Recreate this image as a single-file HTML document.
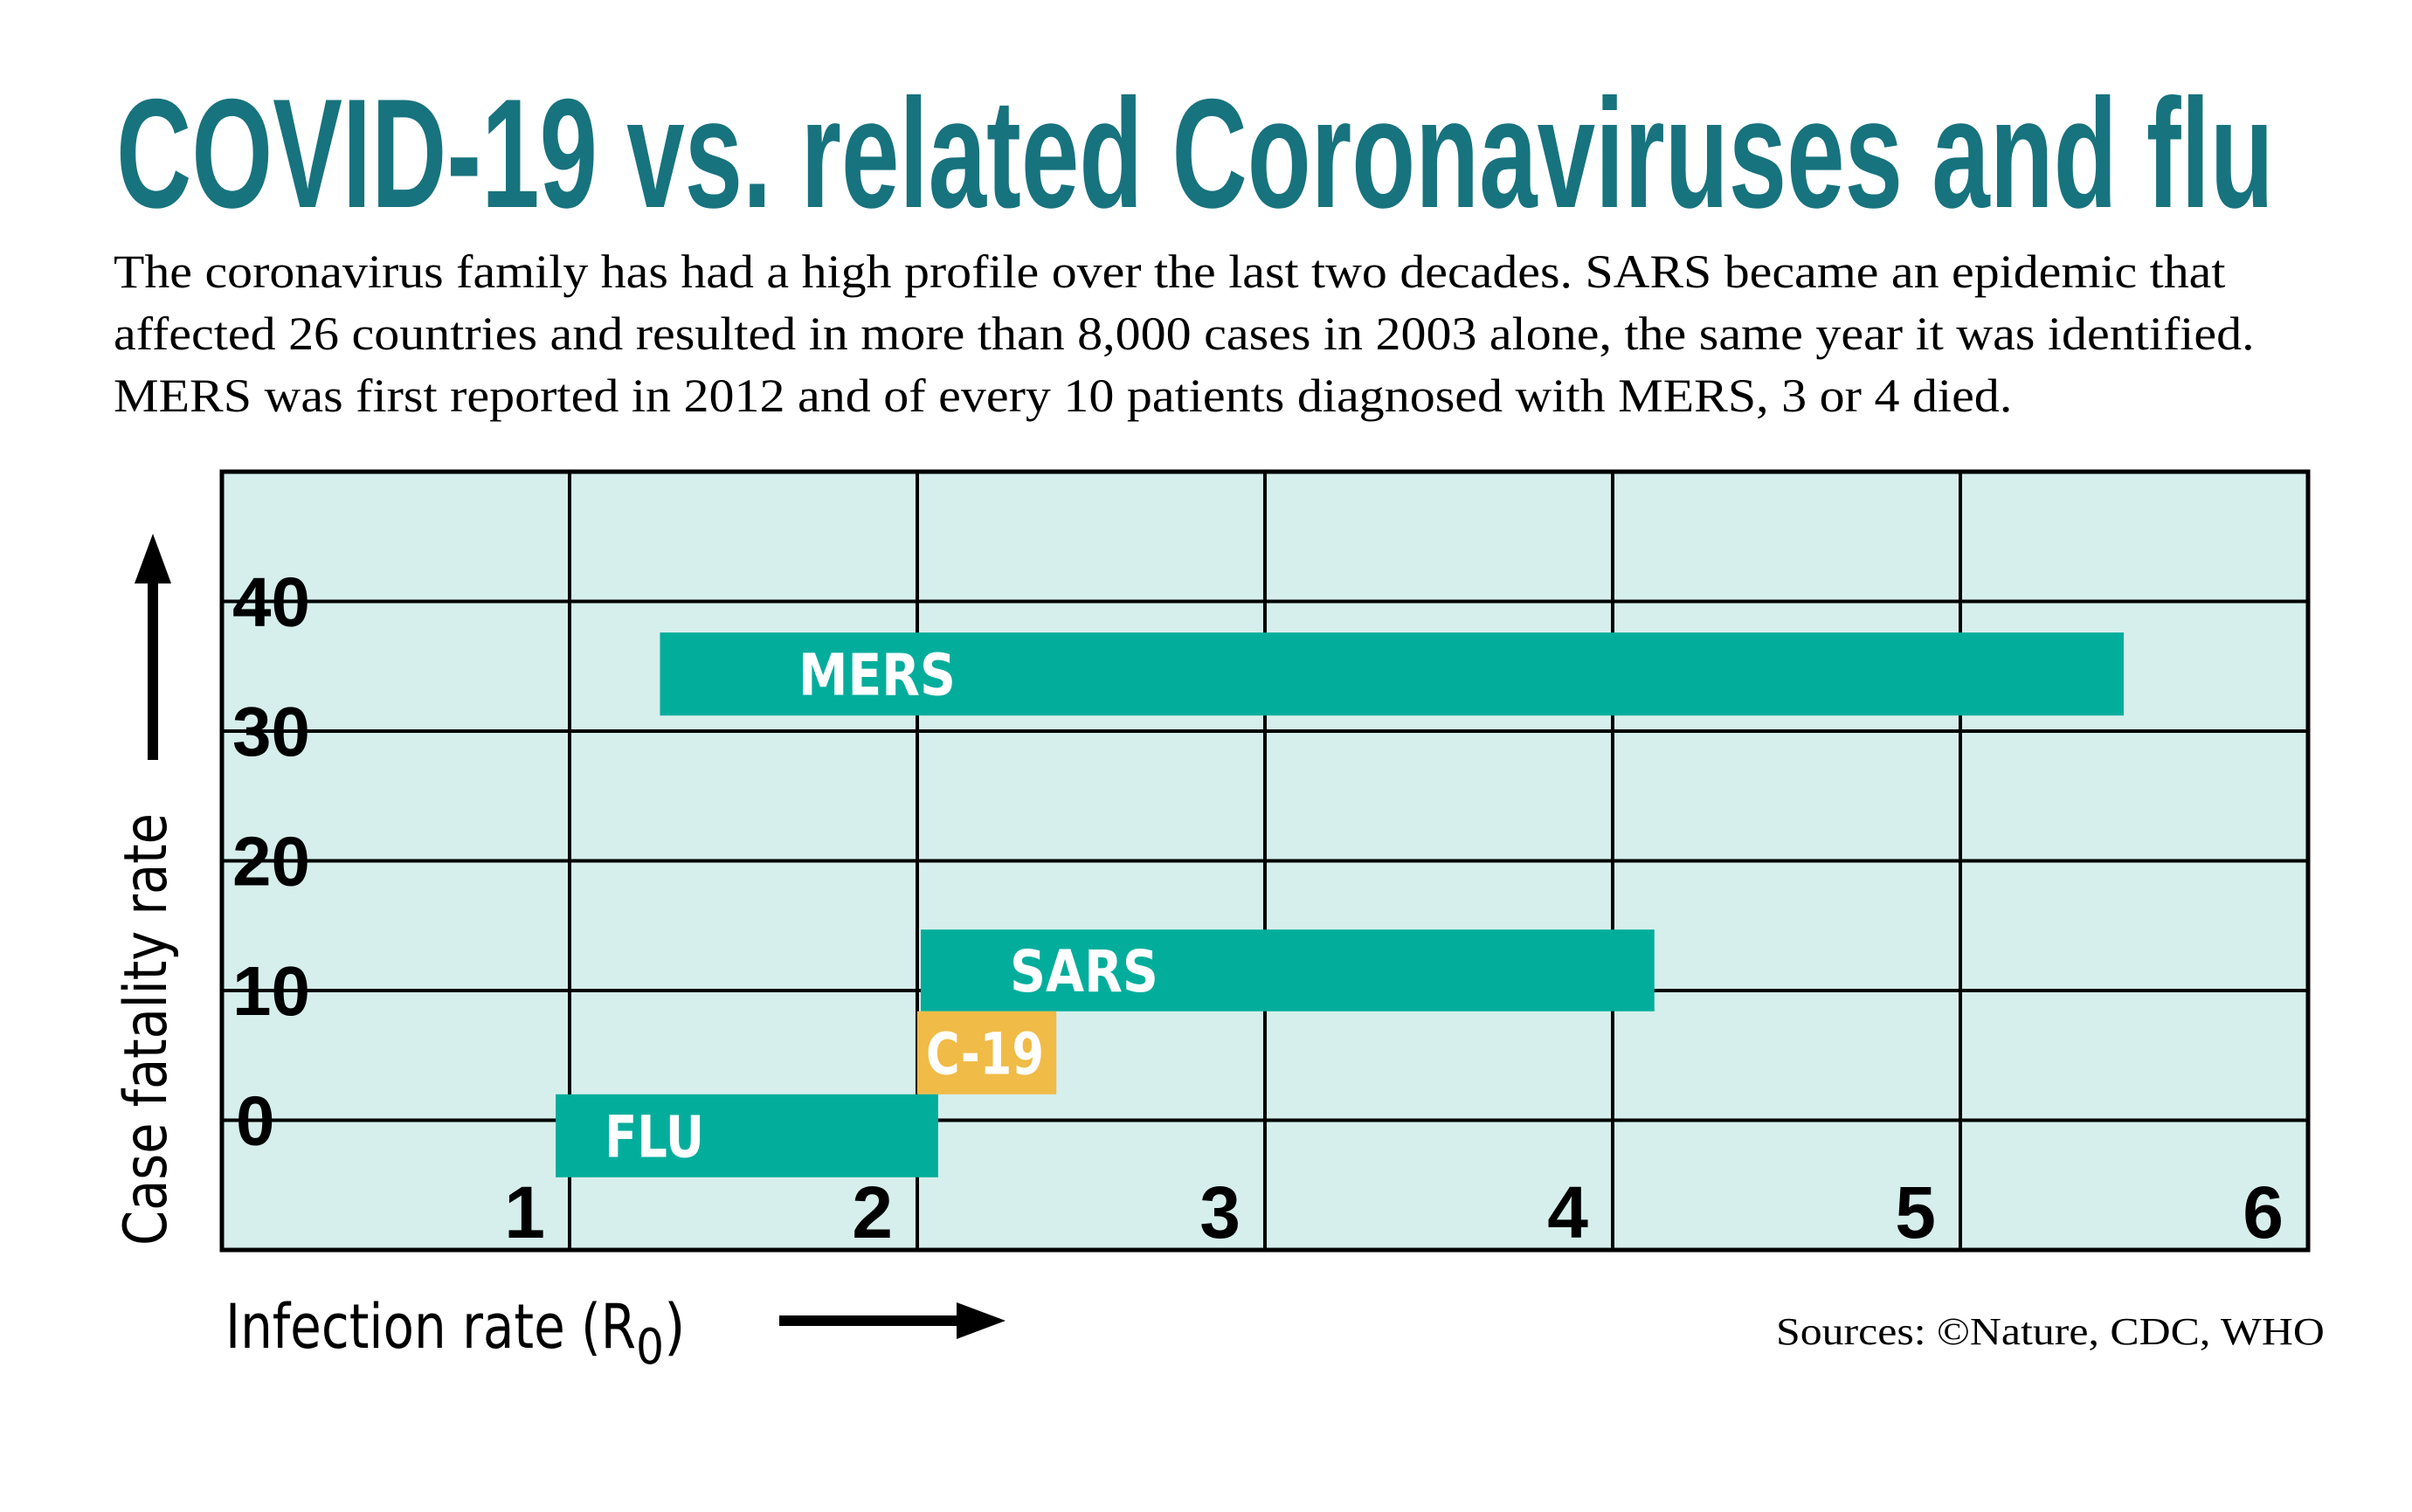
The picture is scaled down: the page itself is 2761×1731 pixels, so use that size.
<!DOCTYPE html>
<html><head><meta charset="utf-8"><style>
html,body{margin:0;padding:0;background:#fff;}
svg{display:block;}
</style></head><body>
<svg id="chart" width="2761" height="1731" viewBox="0 0 2761 1731" xmlns="http://www.w3.org/2000/svg">
<rect width="2761" height="1731" fill="#fff"/>
<text class="fit" data-w="2470" x="133" y="237" font-family="Liberation Sans Narrow, Liberation Sans, sans-serif" font-weight="bold" font-size="178" fill="#17737e">COVID-19 vs. related Coronaviruses and flu</text>
<g font-family="Liberation Serif, serif" font-size="54" fill="#000">
<text class="fit" data-w="2418" x="130" y="329">The coronavirus family has had a high profile over the last two decades. SARS became an epidemic that</text>
<text class="fit" data-w="2451" x="130" y="400">affected 26 countries and resulted in more than 8,000 cases in 2003 alone, the same year it was identified.</text>
<text class="fit" data-w="2174" x="130" y="471">MERS was first reported in 2012 and of every 10 patients diagnosed with MERS,  3 or 4 died.</text>
</g>
<rect x="254" y="540" width="2388" height="891" fill="#d6efec"/>
<g id="grid"></g>
<g id="bars"></g>
<rect x="254" y="540" width="2388" height="891" fill="none" stroke="#000" stroke-width="5"/>
<g id="ticks"></g>
<g>
<rect x="169" y="665" width="12" height="205" fill="#000"/>
<polygon points="175,611 154,668 196,668" fill="#000"/>
</g>
<text transform="translate(190,1426) rotate(-90)" font-family="DejaVu Sans Condensed, DejaVu Sans, sans-serif" font-size="68" fill="#000" textLength="495" lengthAdjust="spacingAndGlyphs">Case fatality rate</text>
<text x="258" y="1543" font-family="DejaVu Sans Condensed, DejaVu Sans, sans-serif" font-size="70" fill="#000"><tspan textLength="470" lengthAdjust="spacingAndGlyphs">Infection rate (R</tspan><tspan font-size="56" dy="18">0</tspan><tspan dy="-18">)</tspan></text>
<g>
<rect x="892" y="1506" width="210" height="12" fill="#000"/>
<polygon points="1095,1491 1151,1512 1095,1533" fill="#000"/>
</g>
<text class="fit" data-w="628" x="2033" y="1539" font-family="Liberation Serif, serif" font-size="44" fill="#000">Sources: ©Nature, CDC, WHO</text>
</svg>
<script>
const xTicks = [1, 2, 3, 4, 5, 6];
const yTicks = [0, 10, 20, 30, 40];
const barNames = ["MERS", "SARS", "C-19", "FLU"];
const barX0 = [1.26, 2.01, 2.0, 0.96];
const barX1 = [5.47, 4.12, 2.40, 2.06];
const barY0 = [31.2, 8.4, 2.0, -4.4];
const barY1 = [37.6, 14.7, 8.4, 2.0];

const NS = "http://www.w3.org/2000/svg";
const PL = 254, PR = 2642, PT = 540, PB = 1431;
const XMIN = 0, XMAX = 6, YMIN = -10, YMAX = 50;
function xs(v){ return PL + (v - XMIN) / (XMAX - XMIN) * (PR - PL); }
function ys(v){ return PB - (v - YMIN) / (YMAX - YMIN) * (PB - PT); }
function mk(tag, attrs, parent){ const e = document.createElementNS(NS, tag); for (const k in attrs) e.setAttribute(k, attrs[k]); parent.appendChild(e); return e; }
function fit(t, w){
  const cur = t.getComputedTextLength();
  if (!cur) return;
  const x = parseFloat(t.getAttribute('x')), y = parseFloat(t.getAttribute('y'));
  const s = w / cur;
  t.setAttribute('transform', 'translate(' + x + ',' + y + ') scale(' + s + ',1) translate(' + (-x) + ',' + (-y) + ')');
}

const grid = document.getElementById('grid');
xTicks.forEach(t => {
  const l = mk('line', {x1: xs(t), x2: xs(t), y1: PT, y2: PB, stroke: '#000', 'stroke-width': 4}, grid);
  
  
});
yTicks.forEach(t => {
  const l = mk('line', {x1: PL, x2: PR, y1: ys(t), y2: ys(t), stroke: '#000', 'stroke-width': 4}, grid);
  
  
});

const bars = document.getElementById('bars');
barNames.forEach((n, i) => {
  const isC = n === "C-19";
  const r = mk('rect', {x: xs(barX0[i]), y: ys(barY1[i]), width: xs(barX1[i]) - xs(barX0[i]), height: ys(barY0[i]) - ys(barY1[i]), fill: isC ? '#f0bb46' : '#03ad9c'}, bars);
  
  
  const yc = (ys(barY0[i]) + ys(barY1[i])) / 2;
  let tx, tw;
  if (n === "MERS") { tx = 914; tw = 180; }
  else if (n === "SARS") { tx = 1156; tw = 170; }
  else if (n === "C-19") { tx = xs(barX0[i]) + 10; tw = 135; }
  else { tx = xs(barX0[i]) + 56; tw = 114; }
  const t = mk('text', {x: tx, y: yc + 24, fill: '#fff', 'font-family': 'DejaVu Sans, sans-serif', 'font-weight': 'bold', 'font-size': 66}, bars);
  t.textContent = n;
  
  
  fit(t, tw);
});

const ticks = document.getElementById('ticks');
xTicks.forEach(t => {
  const e = mk('text', {x: xs(t) - 28, y: PB - 14, 'text-anchor': 'end', fill: '#000', 'font-family': 'Liberation Sans Narrow, Liberation Sans, sans-serif', 'font-weight': 'bold', 'font-size': 84}, ticks);
  e.textContent = String(t);
  
  
});
yTicks.forEach(t => {
  const e = mk('text', {x: t === 0 ? 270 : 266, y: ys(t) + 28, fill: '#000', 'font-family': 'Liberation Sans Narrow, Liberation Sans, sans-serif', 'font-weight': 'bold', 'font-size': 80}, ticks);
  e.textContent = String(t);
  
  
});

document.querySelectorAll('text.fit').forEach(t => fit(t, parseFloat(t.getAttribute('data-w'))));
</script>
</body></html>
